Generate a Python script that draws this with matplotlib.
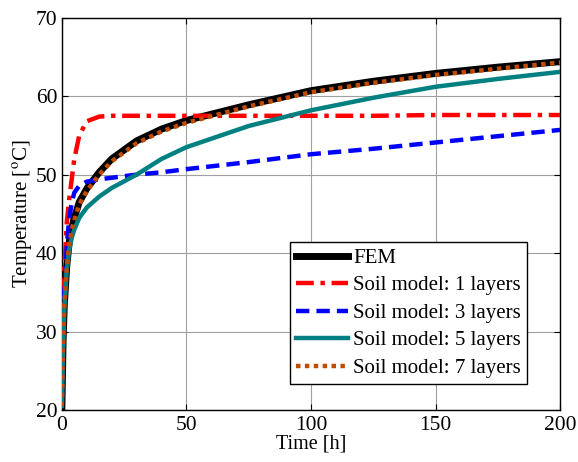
import matplotlib
matplotlib.use('Agg')
import matplotlib.pyplot as plt

# time [h]
t = [0, 0.5, 1, 2, 3, 4, 5, 7, 10, 15, 20, 30, 40, 50, 75, 100, 125, 150, 175, 200]

fem    = [20, 29, 33.5, 38.5, 41.5, 43.2, 44.5, 46.5, 48.2, 50.3, 52, 54.3, 55.8, 56.9, 58.9, 60.7, 61.9, 62.9, 63.7, 64.4]
soil_1 = [21, 32, 38, 44, 47, 49.5, 52, 55, 56.8, 57.4, 57.5, 57.5, 57.5, 57.5, 57.5, 57.5, 57.5, 57.6, 57.6, 57.6]
soil_3 = [21, 29, 35, 41, 44.5, 46.5, 47.7, 48.6, 49.1, 49.4, 49.6, 50, 50.3, 50.7, 51.6, 52.6, 53.3, 54.1, 54.9, 55.7]
soil_5 = [20.5, 28, 33, 38, 40.5, 42, 43, 44.5, 45.8, 47.2, 48.3, 50, 52, 53.5, 56.2, 58.2, 59.8, 61.2, 62.2, 63.1]
soil_7 = [20.5, 29, 33.5, 38.3, 41.2, 43, 44.2, 46.2, 47.9, 50, 51.7, 54, 55.5, 56.6, 58.7, 60.5, 61.7, 62.7, 63.5, 64.3]

plt.rcParams['font.family'] = ['Liberation Serif', 'DejaVu Serif']
plt.rcParams['mathtext.fontset'] = 'stix'

fig = plt.figure(figsize=(5.78, 4.62), dpi=100)
ax = fig.add_axes([0.107, 0.1126, 0.862, 0.849])

ax.plot(t, fem, color='black', lw=5, label='FEM', zorder=3)
ax.plot(t, soil_1, color='red', lw=3.2, dashes=(4, 1.5, 1, 1.5), label='Soil model: 1 layers', zorder=4)
ax.plot(t, soil_3, color='blue', lw=3.2, dashes=(3, 1.6), label='Soil model: 3 layers', zorder=4)
ax.plot(t, soil_5, color='#008080', lw=3.2, label='Soil model: 5 layers', zorder=4)
ax.plot(t, soil_7, color='#C04A00', lw=3.2, dashes=(1, 1), label='Soil model: 7 layers', zorder=5)

ax.set_xlim(0, 200)
ax.set_ylim(20, 70)
ax.set_xticks([0, 50, 100, 150, 200])
ax.set_yticks([20, 30, 40, 50, 60, 70])
ax.grid(True, color='#a0a0a0', lw=0.8)
ax.set_axisbelow(True)
ax.tick_params(direction='in', labelsize=15.5, top=True, right=True, length=4)
ax.tick_params(axis='x', pad=4)
ax.tick_params(axis='y', pad=3)
for s in ax.spines.values():
    s.set_linewidth(1.0)

ax.set_xlabel('Time [h]', fontsize=14.5, labelpad=0)
ax.set_ylabel('Temperature [$^{\\mathrm{o}}$C]', fontsize=15, labelpad=1)

leg = ax.legend(loc='lower right', bbox_to_anchor=(0.934, 0.066), fontsize=15,
                fancybox=False, framealpha=1, edgecolor='black', handlelength=2.5,
                handletextpad=0.25, borderpad=0.3, labelspacing=0.38, borderaxespad=0)
leg.get_frame().set_linewidth(1.0)

fig.savefig('out.png', dpi=100)
